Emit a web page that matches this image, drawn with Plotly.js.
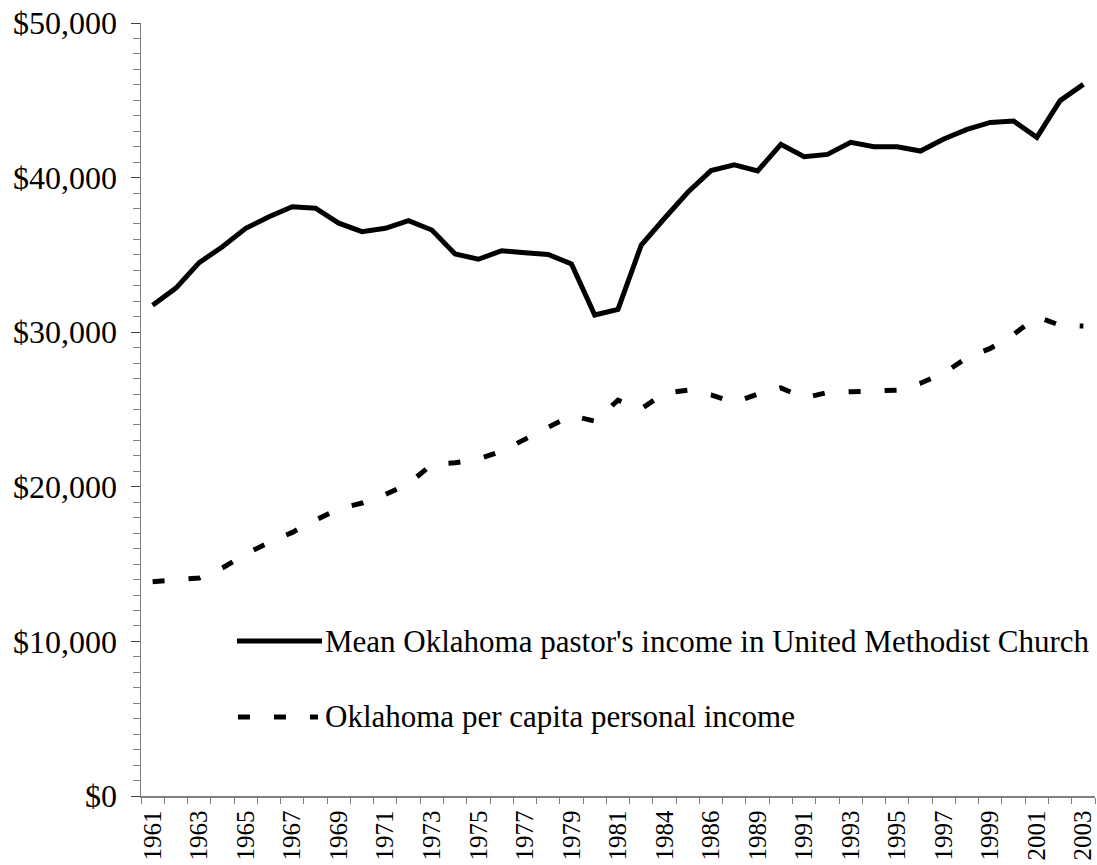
<!DOCTYPE html>
<html>
<head>
<meta charset="utf-8">
<script src="https://cdn.plot.ly/plotly-3.0.1.min.js"></script>
<style>html,body{margin:0;padding:0;background:#fff;}#chart{width:1097px;height:865px;}</style>
</head>
<body>
<div id="chart"></div>
<script>
const years = ["1961","1962","1963","1964","1965","1966","1967","1968","1969","1970",
  "1971","1972","1973","1974","1975","1976","1977","1978","1979","1980",
  "1981","1982","1984","1985","1986","1987","1989","1990","1991","1992",
  "1993","1994","1995","1996","1997","1998","1999","2000","2001","2002","2003"];

const pastorIncome = [31750,32850,34500,35530,36720,37470,38120,38020,37050,36500,
  36720,37220,36610,35060,34720,35270,35140,35030,34410,31110,
  31480,35640,37370,39050,40450,40820,40430,42150,41350,41500,
  42280,42000,42000,41720,42500,43120,43570,43660,42600,44980,46030];

const perCapitaIncome = [13860,14000,14100,14750,15650,16400,17050,17850,18580,18950,
  19500,20200,21450,21550,21800,22300,23100,23850,24600,24250,
  25600,25050,26050,26250,25950,25450,26000,26400,25750,26100,
  26150,26200,26250,26700,27350,28350,28950,29850,31000,30450,30400];

const tickLabels = years.map((y, i) => (i % 2 === 0 ? y : ""));

const seriesNames = [
  "Mean Oklahoma pastor's income in United Methodist Church",
  "Oklahoma per capita personal income"
];

const FONT = "'Liberation Serif', 'Times New Roman', serif";
const dashPattern = "12px,24px";

const traces = [
  {x: years, y: pastorIncome, type: "scatter", mode: "lines", name: seriesNames[0],
   line: {color: "#000", width: 5}, showlegend: false},
  {x: years, y: perCapitaIncome, type: "scatter", mode: "lines", name: seriesNames[1],
   line: {color: "#000", width: 5, dash: dashPattern}, showlegend: false}
];

const layout = {
  width: 1097, height: 865,
  margin: {l: 141, r: 2, t: 23, b: 69},
  paper_bgcolor: "#fff", plot_bgcolor: "#fff",
  font: {family: FONT, color: "#000"},
  xaxis: {
    type: "category", categoryorder: "array", categoryarray: years,
    tickmode: "array", tickvals: years, ticktext: tickLabels,
    tickson: "boundaries", ticks: "outside", ticklen: 6, tickcolor: "#808080",
    tickangle: -90, tickfont: {family: FONT, size: 25, color: "#000"},
    ticklabelstandoff: 3,
    showline: true, linecolor: "#808080", linewidth: 1.5,
    showgrid: false, zeroline: false, range: [-0.5, 40.5], fixedrange: true
  },
  yaxis: {
    range: [0, 50000], dtick: 10000, tick0: 0,
    tickprefix: "$", tickformat: ",d",
    ticks: "outside", ticklen: 9, tickcolor: "#404040",
    minor: {dtick: 1000, ticks: "outside", ticklen: 7, tickcolor: "#808080", showgrid: false},
    tickfont: {family: FONT, size: 32, color: "#000"},
    showline: true, linecolor: "#808080", linewidth: 1.5,
    showgrid: false, zeroline: false, ticklabelstandoff: 7, fixedrange: true
  },
  shapes: [
    {type: "line", xref: "paper", yref: "paper", x0: 0.1006, x1: 0.1897, y0: 0.2005, y1: 0.2005,
     line: {color: "#000", width: 5}},
    {type: "line", xref: "paper", yref: "paper", x0: 0.1016, x1: 0.1855, y0: 0.1022, y1: 0.1022,
     line: {color: "#000", width: 5, dash: dashPattern}}
  ],
  annotations: [
    {xref: "paper", yref: "paper", x: 0.1905, y: 0.2005, xanchor: "left", yanchor: "middle",
     text: seriesNames[0], showarrow: false, font: {family: FONT, size: 31, color: "#000"}},
    {xref: "paper", yref: "paper", x: 0.1905, y: 0.1022, xanchor: "left", yanchor: "middle",
     text: seriesNames[1], showarrow: false, font: {family: FONT, size: 31, color: "#000"}}
  ],
  showlegend: false
};

Plotly.newPlot("chart", traces, layout, {displayModeBar: false, staticPlot: true});
</script>
</body>
</html>
